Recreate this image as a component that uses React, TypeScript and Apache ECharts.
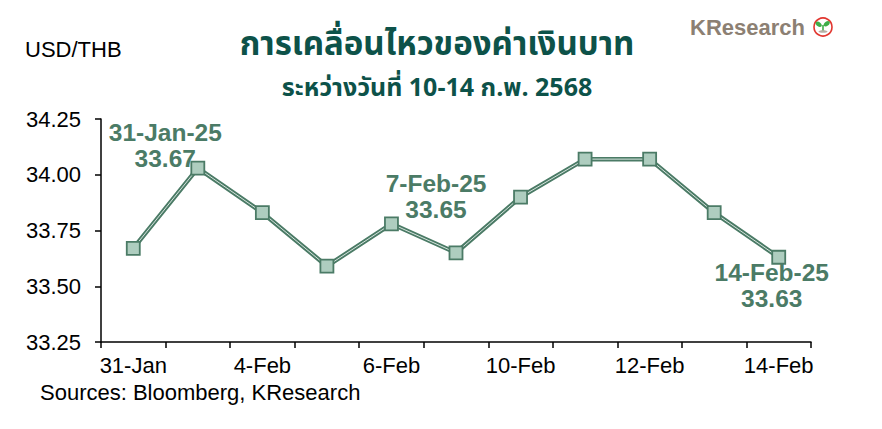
import React, { useEffect, useRef } from "react";
import * as echarts from "echarts";

const categories = ["31-Jan", "3-Feb", "4-Feb", "5-Feb", "6-Feb", "7-Feb", "10-Feb", "11-Feb", "12-Feb", "13-Feb", "14-Feb"];
const fullDates = ["31-Jan-25", "3-Feb-25", "4-Feb-25", "5-Feb-25", "6-Feb-25", "7-Feb-25", "10-Feb-25", "11-Feb-25", "12-Feb-25", "13-Feb-25", "14-Feb-25"];
const usdthb = [33.67, 34.03, 33.83, 33.59, 33.78, 33.65, 33.90, 34.07, 34.07, 33.83, 33.63];
const annotated = [0, 5, 10];
const yTicks = { min: 33.25, max: 34.25, interval: 0.25 };
const titleText = "การเคลื่อนไหวของค่าเงินบาท";
const subtitleText = "ระหว่างวันที่ 10-14 ก.พ. 2568";
const unitText = "USD/THB";
const sourceText = "Sources: Bloomberg, KResearch";

const GREEN = "#4b7b66";
const LIGHT = "#aecdbf";
const FONT = "Liberation Sans, Arial, sans-serif";
const THAI = "Noto Sans Thai, Noto Sans, Loma, sans-serif";

const labelPos: Record<number, any> = {
  0: { position: "top", offset: [32, -64] },
  5: { position: "top", offset: [-20, -18] },
  10: { position: "bottom", offset: [-7, -10] },
};

export default function App() {
  const ref = useRef<HTMLDivElement>(null);
  useEffect(() => {
    document.body.style.margin = "0";
    const chart = echarts.init(ref.current!, undefined, { renderer: "svg" });
    const markerData = usdthb.map((v, i) => {
      if (annotated.includes(i)) {
        return {
          value: v,
          label: {
            show: true,
            ...labelPos[i],
            formatter: () => `${fullDates[i]}\n${v.toFixed(2)}`,
            color: GREEN,
            fontFamily: FONT,
            fontWeight: "bold",
            fontSize: 24.5,
            lineHeight: 26,
            align: "center",
          },
        };
      }
      return { value: v };
    });
    chart.setOption({
      animation: false,
      backgroundColor: "#ffffff",
      grid: { left: 101, right: 71, top: 119, bottom: 87, containLabel: false },
      xAxis: {
        type: "category",
        data: categories,
        boundaryGap: true,
        axisLine: { lineStyle: { color: "#000", width: 1.5 } },
        axisTick: { show: true, interval: 0, length: 6, lineStyle: { color: "#000", width: 1.5 } },
        axisLabel: { interval: 1, color: "#000", fontFamily: FONT, fontSize: 22, margin: 12 },
        splitLine: { show: false },
      },
      yAxis: {
        type: "value",
        min: yTicks.min,
        max: yTicks.max,
        interval: yTicks.interval,
        axisLine: { show: true, lineStyle: { color: "#000", width: 1.5 } },
        axisTick: { show: true, length: 6, lineStyle: { color: "#000", width: 1.5 } },
        axisLabel: { color: "#000", fontFamily: FONT, fontSize: 22, margin: 20, formatter: (v: number) => v.toFixed(2) },
        splitLine: { show: false },
      },
      series: [
        {
          type: "line",
          data: usdthb,
          symbol: "none",
          lineStyle: { color: GREEN, width: 4.5 },
          z: 2,
        },
        {
          type: "line",
          data: usdthb,
          symbol: "none",
          lineStyle: { color: "#e6f1ec", width: 0.9 },
          z: 3,
        },
        {
          type: "line",
          data: markerData,
          symbol: "rect",
          symbolSize: 13,
          itemStyle: { color: LIGHT, borderColor: GREEN, borderWidth: 1.8 },
          lineStyle: { opacity: 0 },
          z: 4,
        },
      ],
      graphic: [
        { type: "text", left: 25, top: 38, style: { text: unitText, font: `22px ${FONT}`, fill: "#000" } },
        { type: "text", left: 40, top: 381, style: { text: sourceText, font: `22px ${FONT}`, fill: "#000" } },
        {
          type: "text", x: 437, y: 45,
          style: { text: titleText, font: `bold 33px ${THAI}`, fill: "#0d5249", align: "center", verticalAlign: "middle" },
        },
        {
          type: "text", x: 437, y: 88,
          style: { text: subtitleText, font: `bold 25px ${THAI}`, fill: "#0d5249", align: "center", verticalAlign: "middle" },
        },
        {
          type: "text", x: 690, y: 27,
          style: { text: "KResearch", font: `bold 22px ${FONT}`, fill: "#8c8073", verticalAlign: "middle" },
        },
        { type: "circle", shape: { cx: 823, cy: 27, r: 9 }, style: { fill: "#fff", stroke: "#e2362f", lineWidth: 1.6 } },
        { type: "ellipse", shape: { cx: 819, cy: 24, rx: 3.5, ry: 2.2 }, rotation: -0.6, originX: 819, originY: 24, style: { fill: "#3fae49" } },
        { type: "ellipse", shape: { cx: 827, cy: 24, rx: 3.5, ry: 2.2 }, rotation: 0.6, originX: 827, originY: 24, style: { fill: "#3fae49" } },
        { type: "rect", shape: { x: 822.2, y: 25, width: 1.6, height: 6 }, style: { fill: "#3fae49" } },
        { type: "ellipse", shape: { cx: 823, cy: 31.5, rx: 4.5, ry: 1.3 }, style: { fill: "#b7b0a6" } },
      ],
    });
    return () => chart.dispose();
  }, []);
  return <div ref={ref} style={{ width: 882, height: 429 }} />;
}
